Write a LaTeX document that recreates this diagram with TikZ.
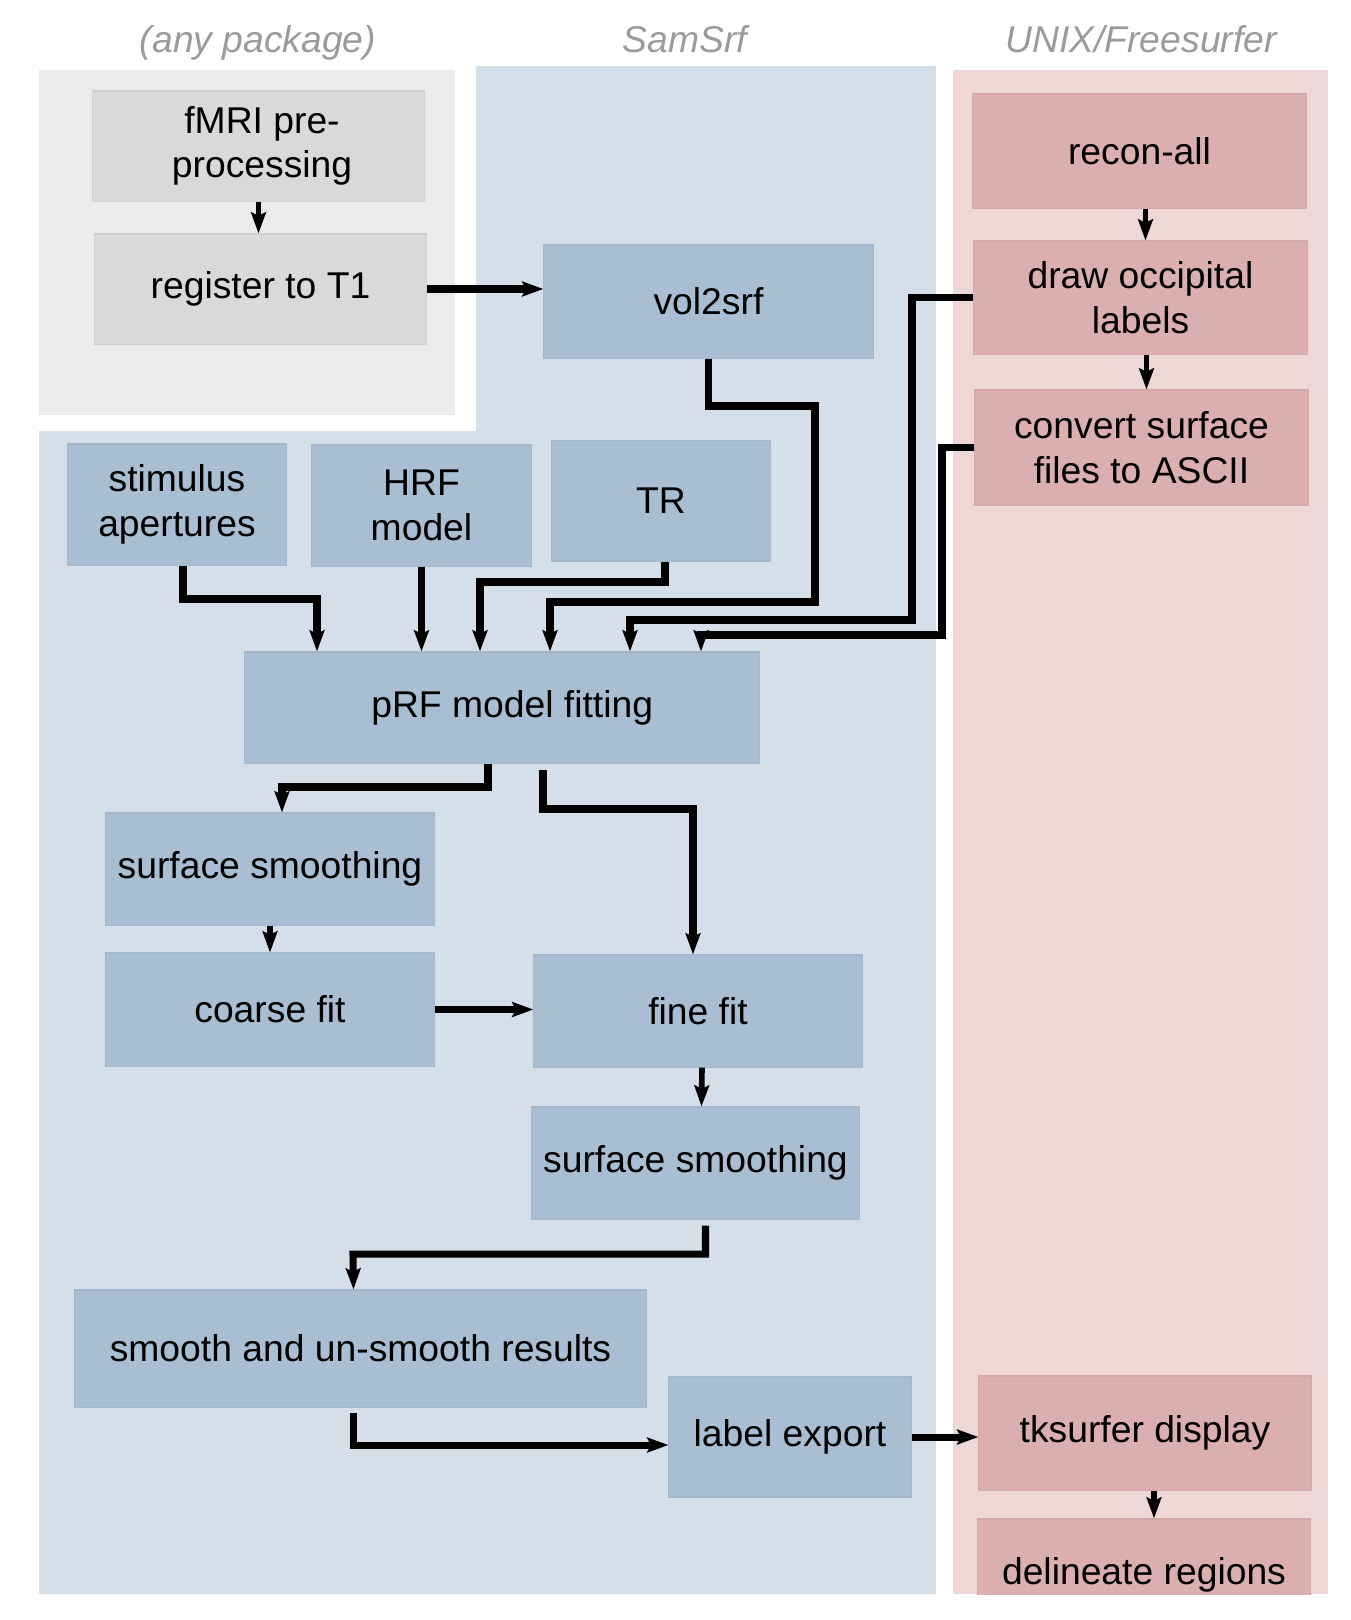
\documentclass[tikz,border=0pt]{standalone}
\usepackage{fontspec}
\setmainfont{Liberation Sans}
\usepackage{tikz}
\usetikzlibrary{
  arrows.meta,
  calc
}
\definecolor{grayband}{HTML}{EBEBEB}
\definecolor{grayfill}{HTML}{D9D9D9}
\definecolor{blueband}{HTML}{D5DFE9}
\definecolor{bluefill}{HTML}{AABED3}
\definecolor{pinkband}{HTML}{EDD7D7}
\definecolor{pinkfill}{HTML}{DBAFB0}
\definecolor{headgray}{HTML}{9B9B9B}

\begin{document}
\begin{tikzpicture}[
      x=0.01cm, y=-0.01cm,
      >={Stealth[length=6pt, width=4.2pt, inset=1pt]},
      every node/.style={font=\fontsize{10.6}{12.7}\selectfont, align=center, inner sep=2pt},
      head/.style={font=\fontsize{10.6}{12.7}\selectfont\itshape, text=headgray, anchor=base},
      graybox/.style={fill=grayfill, draw=grayfill!96!black, line width=0.3pt},
      bluebox/.style={fill=bluefill, draw=bluefill!96!black, line width=0.3pt},
      pinkbox/.style={fill=pinkfill, draw=pinkfill!96!black, line width=0.3pt},
      flow/.style={->, line width=2pt},
      thinflow/.style={->, line width=1.6pt}
  ]
      \useasboundingbox (0,0) rectangle (1350,1620);

      % Bands
      \fill[grayband] (39,70) rectangle (455,415);
      \fill[blueband] (476,66) -- (936,66) -- (936,1594) -- (39,1594)
          -- (39,431) -- (476,431) -- cycle;
      \fill[pinkband] (953,70) rectangle (1328,1594);

      \node[head] (hany) at (258,52) {(any package)};
      \node[head] (hsam) at (685,52) {SamSrf};
      \node[head] (hfs) at (1141,52) {UNIX/Freesurfer};

      % (any package)
      \node[graybox, minimum width=3.31cm, minimum height=1.10cm] (fmri) at (258.5,146) {\kern2pt fMRI pre-\\\kern2pt processing};
      \node[graybox, minimum width=3.31cm, minimum height=1.10cm] (reg) at (260.5,289) {register to T1};

      % SamSrf
      \node[bluebox, minimum width=3.29cm, minimum height=1.13cm] (vol) at (708.5,301.5) {vol2srf};
      \node[bluebox, minimum width=2.18cm, minimum height=1.21cm] (stim) at (177,504.5) {stimulus\\apertures};
      \node[bluebox, minimum width=2.19cm, minimum height=1.21cm] (hrf) at (421.5,505.5) {HRF\\model};
      \node[bluebox, minimum width=2.18cm, minimum height=1.21cm] (tr) at (661,501) {TR};
      \node[bluebox, minimum width=5.14cm, minimum height=1.11cm] (prf) at (502,707.5) {\kern5.8pt pRF model fitting};
      \node[bluebox, minimum width=3.28cm, minimum height=1.12cm] (ssa) at (270,869) {surface smoothing};
      \node[bluebox, minimum width=3.28cm, minimum height=1.13cm] (coarse) at (270,1009.5) {coarse fit};
      \node[bluebox, minimum width=3.28cm, minimum height=1.12cm] (fine) at (698,1011) {fine fit};
      \node[bluebox, minimum width=3.27cm, minimum height=1.12cm] (ssb) at (695.5,1163) {surface smoothing};
      \node[bluebox, minimum width=5.71cm, minimum height=1.17cm] (smooth) at (360.5,1348.5) {smooth and un-smooth results};
      \node[bluebox, minimum width=2.42cm, minimum height=1.20cm] (export) at (790,1437) {label export};

      % UNIX/Freesurfer
      \node[pinkbox, minimum width=3.33cm, minimum height=1.14cm] (recon) at (1139.5,151) {recon-all};
      \node[pinkbox, minimum width=3.33cm, minimum height=1.13cm] (occip) at (1140.5,297.5) {draw occipital\\labels};
      \node[pinkbox, minimum width=3.33cm, minimum height=1.15cm] (conv) at (1141.5,447.5) {convert surface\\files to ASCII};
      \node[pinkbox, minimum width=3.32cm, minimum height=1.14cm] (tks) at (1145,1433) {tksurfer display};
      \begin{scope}
          \clip (953,70) rectangle (1328,1594);
          \node[pinkbox, minimum width=3.32cm, minimum height=1.12cm] (delin) at (1144,1575) {delineate regions};
      \end{scope}

      % Arrows
      \draw[thinflow] (fmri.south) -- (fmri.south |- reg.north);
      \draw[flow] (reg.east) -- (reg.east -| vol.west);
      \draw[flow] (vol.south) |- (815,406) -- (815,602) -| ($(prf.north)+(48,0)$);
      \draw[flow] (occip.west) -| (912,620) -| ($(prf.north)+(128,0)$);
      \draw[flow] (conv.west) -| (942,635) -| ($(prf.north)+(199,0)$);
      \draw[flow] ($(stim.south)+(6,0)$) |- (317,599) -- ($(prf.north)+(-185,0)$);
      \draw[flow] (hrf.south) -- (hrf.south |- prf.north);
      \draw[flow] ($(tr.south)+(4,0)$) |- (480,582) -- ($(prf.north)+(-22,0)$);
      \draw[flow] ($(prf.south)+(-14,0)$) |- (282,787) -- ($(ssa.north)+(12,0)$);
      \draw[flow] ($(prf.south)+(41,6)$) |- (693,809) -- ($(fine.north)+(-5,0)$);
      \draw[thinflow] (ssa.south) -- (coarse.north);
      \draw[flow] (coarse.east) -- (coarse.east -| fine.west);
      \draw[thinflow] ($(fine.south)+(4,0)$) -- ($(ssb.north)+(6,0)$);
      \draw[flow] ($(ssb.south)+(10,6)$) |- (353,1254) -- ($(smooth.north)+(-7,0)$);
      \draw[flow] ($(smooth.south)+(-7,5)$) |- ($(export.west)+(0,8)$);
      \draw[flow] (export.east) -- (export.east -| tks.west);
      \draw[thinflow] ($(recon.south)+(6,0)$) -- ($(occip.north)+(5,0)$);
      \draw[thinflow] ($(occip.south)+(6,0)$) -- ($(conv.north)+(5,0)$);
      \draw[thinflow] ($(tks.south)+(9,0)$) -- ($(delin.north)+(10,0)$);
  \end{tikzpicture}
\end{document}
